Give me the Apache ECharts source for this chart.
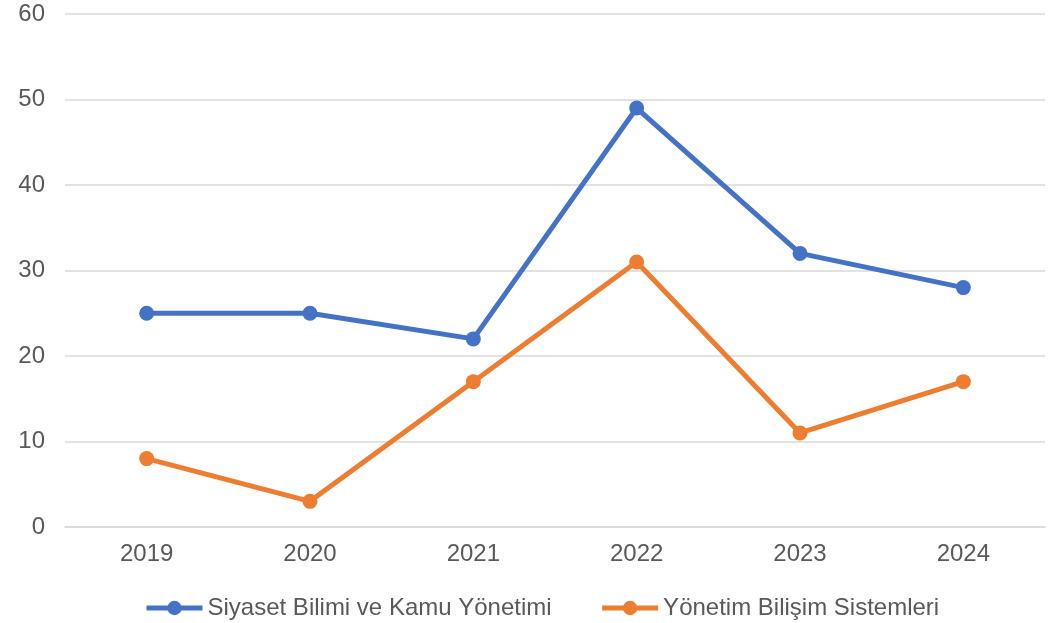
<!DOCTYPE html>
<html>
<head>
<meta charset="utf-8">
<script src="https://cdn.jsdelivr.net/npm/echarts@6/dist/echarts.min.js"></script>
<style>
  html, body { margin: 0; padding: 0; background: #fff; }
  #main { width: 1052px; height: 623px; }
</style>
</head>
<body>
<div id="main"></div>
<script>
// veriler
var years = ['2019', '2020', '2021', '2022', '2023', '2024'];
var siyaset = [25, 25, 22, 49, 32, 28];
var ybs = [8, 3, 17, 31, 11, 17];
var yTicks = { min: 0, max: 60, interval: 10 };

var myChart = echarts.init(document.getElementById('main'));

var font = 'Liberation Sans, Arial, sans-serif';

myChart.setOption({
    animation: false,
    grid: { left: 65, right: 7, top: 14, bottom: 96 },
    legend: {
        top: 591,
        left: 139,
        itemWidth: 56,
        itemHeight: 18,
        itemGap: 48,
        lineStyle: { width: 5 },
        textStyle: { color: '#595959', fontSize: 24, fontFamily: font },
        data: ['Siyaset Bilimi ve Kamu Yönetimi', 'Yönetim Bilişim Sistemleri']
    },
    xAxis: {
        type: 'category',
        data: years,
        boundaryGap: true,
        axisLine: { lineStyle: { color: '#D9D9D9', width: 1.5 } },
        axisTick: { show: false },
        axisLabel: { color: '#595959', fontSize: 24, fontFamily: font, margin: 15 }
    },
    yAxis: {
        type: 'value',
        min: yTicks.min,
        max: yTicks.max,
        interval: yTicks.interval,
        axisLine: { show: false },
        axisTick: { show: false },
        splitLine: { lineStyle: { color: '#D9D9D9', width: 1.5 } },
        axisLabel: { color: '#595959', fontSize: 24, fontFamily: font, margin: 20 }
    },
    series: [
        {
            name: 'Siyaset Bilimi ve Kamu Yönetimi',
            type: 'line',
            data: siyaset,
            symbol: 'circle',
            symbolSize: 15,
            lineStyle: { color: '#4472C4', width: 5 },
            itemStyle: { color: '#4472C4' }
        },
        {
            name: 'Yönetim Bilişim Sistemleri',
            type: 'line',
            data: ybs,
            symbol: 'circle',
            symbolSize: 15,
            lineStyle: { color: '#ED7D31', width: 5 },
            itemStyle: { color: '#ED7D31' }
        }
    ]
});
</script>
</body>
</html>
